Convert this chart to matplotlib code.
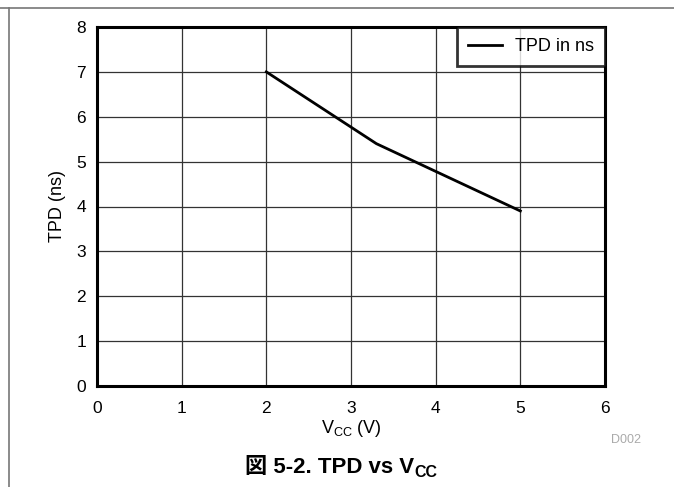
import matplotlib
matplotlib.use('Agg')
import matplotlib.pyplot as plt
from matplotlib.lines import Line2D

plt.rcParams['font.family'] = ['Liberation Sans', 'Noto Sans CJK JP']
plt.rcParams['mathtext.fontset'] = 'custom'
plt.rcParams['mathtext.rm'] = 'Liberation Sans'
plt.rcParams['mathtext.bf'] = 'Liberation Sans:bold'

# data
vcc = [2.0, 3.3, 5.0]
tpd = [7.0, 5.4, 3.9]
x_ticks = [0, 1, 2, 3, 4, 5, 6]
y_ticks = [0, 1, 2, 3, 4, 5, 6, 7, 8]

fig = plt.figure(figsize=(6.74, 4.87), dpi=100)
W, H = 674, 487
ax = fig.add_axes([97 / W, 1 - 386 / H, (605 - 97) / W, (386 - 27) / H])

ax.plot(vcc, tpd, color='black', lw=2, label='TPD in ns')
ax.set_xlim(0, 6)
ax.set_ylim(0, 8)
ax.set_xticks(x_ticks)
ax.set_yticks(y_ticks)
ax.grid(True, color='#333333', lw=0.9)
ax.tick_params(length=0, labelsize=12.5)
ax.tick_params(axis='x', pad=11)
ax.tick_params(axis='y', pad=8)
for s in ax.spines.values():
    s.set_linewidth(2.2)
    s.set_color('black')

ax.set_xlabel(r'V$_{\mathrm{CC}}$ (V)', fontsize=13, labelpad=1)
ax.set_ylabel('TPD (ns)', fontsize=13, labelpad=7)

leg = ax.legend(loc='upper right', fontsize=13, frameon=True, fancybox=False,
                borderaxespad=0, handlelength=1.85, borderpad=0.6,
                handletextpad=0.75)
leg.get_frame().set_edgecolor('black')
leg.get_frame().set_linewidth(2)

fig.text(626 / W, 1 - 440 / H, 'D002', color='#aaaaaa', fontsize=9,
         ha='center', va='center')

# caption: CJK text plus a bold subscript, drawn as two pieces
base_y = 1 - 473 / H
cap = fig.text(330 / W, base_y, '図 5-2. TPD vs V',
               fontsize=16, fontweight='bold', ha='center', va='baseline')
fig.canvas.draw()
bb = cap.get_window_extent()
fig.text(bb.x1 / W, base_y - 4 / H, 'CC',
         fontsize=11.5, fontweight='bold', ha='left', va='baseline')

# page frame lines
fig.add_artist(Line2D([0, 1], [1 - 8 / H, 1 - 8 / H], color='#777777', lw=1.2,
                      transform=fig.transFigure))
fig.add_artist(Line2D([9 / W, 9 / W], [0, 1 - 8 / H], color='#777777', lw=1.2,
                      transform=fig.transFigure))

fig.savefig('out.png', dpi=100)
